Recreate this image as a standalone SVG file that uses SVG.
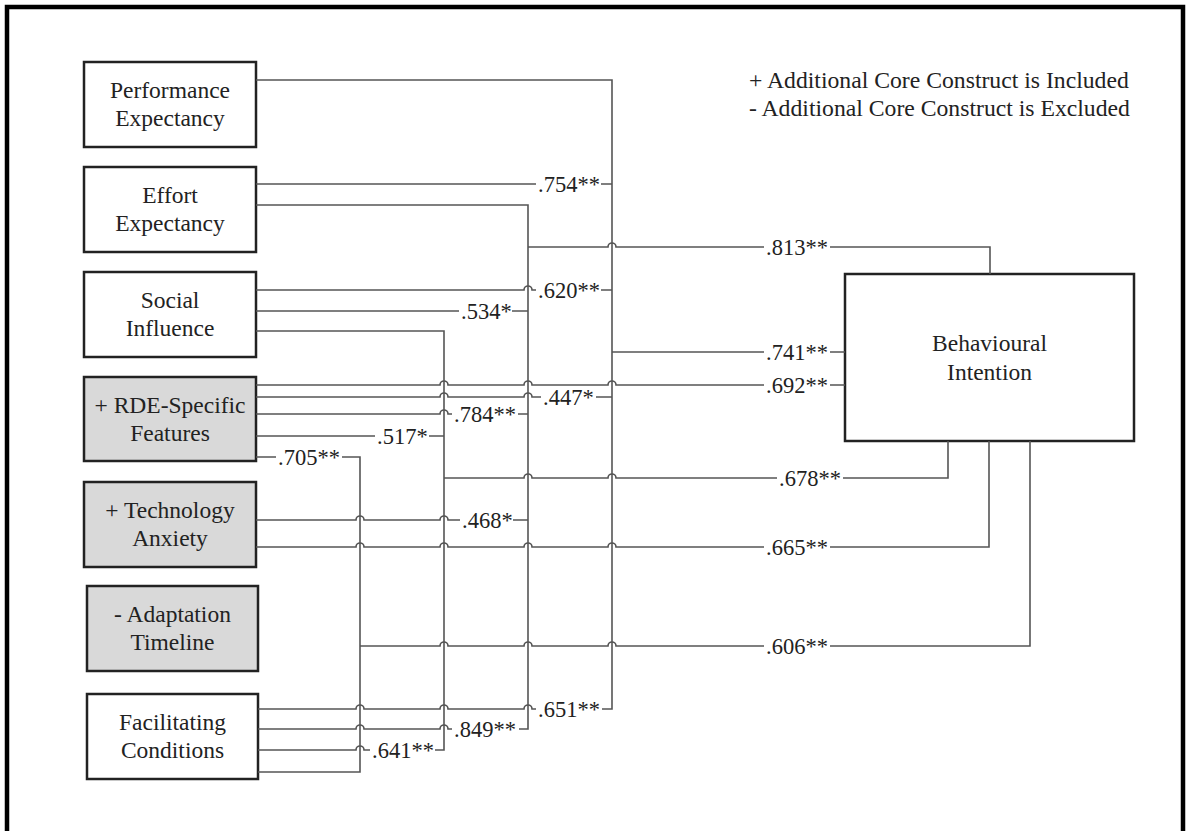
<svg xmlns="http://www.w3.org/2000/svg" width="1190" height="831" viewBox="0 0 1190 831">
<style>
  .frame{fill:none;stroke:#000;stroke-width:4.5}
  .box{stroke:#222;stroke-width:2.5}
  .w{fill:#fff}
  .g{fill:#d9d9d9}
  .t{font-family:"Liberation Serif","Times New Roman",serif;font-size:23.5px;fill:#222;text-anchor:middle}
  .lg{font-family:"Liberation Serif","Times New Roman",serif;font-size:23.7px;fill:#222}
  .c path{fill:none;stroke:#555;stroke-width:1.6}
  .c text{font-family:"Liberation Serif","Times New Roman",serif;font-size:22.5px;fill:#222}
</style>
<rect width="1190" height="831" fill="#fff"/>
<path class="frame" d="M7,831 V7 H1183 V831"/>

<g id="legend">
  <text class="lg" x="749" y="88">+ Additional Core Construct is Included</text>
  <text class="lg" x="749" y="115.5">- Additional Core Construct is Excluded</text>
</g>

<g id="node-pe">
  <rect class="box w" x="84" y="62" width="172" height="85"/>
  <text class="t" x="170" y="98">Performance</text>
  <text class="t" x="170" y="126">Expectancy</text>
</g>
<g id="node-ee">
  <rect class="box w" x="84" y="167" width="172" height="85"/>
  <text class="t" x="170" y="203">Effort</text>
  <text class="t" x="170" y="231">Expectancy</text>
</g>
<g id="node-si">
  <rect class="box w" x="84" y="272" width="172" height="85"/>
  <text class="t" x="170" y="308">Social</text>
  <text class="t" x="170" y="336">Influence</text>
</g>
<g id="node-rde">
  <rect class="box g" x="84" y="377" width="172" height="84"/>
  <text class="t" x="170" y="412.5">+ RDE-Specific</text>
  <text class="t" x="170" y="440.5">Features</text>
</g>
<g id="node-ta">
  <rect class="box g" x="84" y="482" width="172" height="85"/>
  <text class="t" x="170" y="518">+ Technology</text>
  <text class="t" x="170" y="546">Anxiety</text>
</g>
<g id="node-at">
  <rect class="box g" x="87" y="586" width="171" height="85"/>
  <text class="t" x="172.5" y="622">- Adaptation</text>
  <text class="t" x="172.5" y="650">Timeline</text>
</g>
<g id="node-fc">
  <rect class="box w" x="87" y="694" width="171" height="85"/>
  <text class="t" x="172.5" y="730">Facilitating</text>
  <text class="t" x="172.5" y="758">Conditions</text>
</g>
<g id="node-bi">
  <rect class="box w" x="845" y="274" width="289" height="167"/>
  <text class="t" x="989.5" y="351">Behavioural</text>
  <text class="t" x="989.5" y="379.5">Intention</text>
</g>

<g id="connectors" class="c">
  <!-- buses -->
  <path d="M256,80 H612 V709 H602"/>
  <path d="M256,205 H528 V729 H519"/>
  <path d="M256,331 H444 V750 H435"/>
  <path d="M256,457 H276 M342,457 H360 V772 H258"/>
  <!-- correlations -->
  <path d="M256,184 H536 M601,184 H612"/>
  <path d="M256,290 H524 a4,4 0 0 1 8,0 H536 M601,290 H612"/>
  <path d="M256,311 H459 M512,311 H528"/>
  <path d="M256,397 H440 a4,4 0 0 1 8,0 H524 a4,4 0 0 1 8,0 H541 M596,397 H612"/>
  <path d="M256,414 H440 a4,4 0 0 1 8,0 H452 M518,414 H528"/>
  <path d="M256,436 H375 M429,436 H444"/>
  <path d="M256,520 H356 a4,4 0 0 1 8,0 H440 a4,4 0 0 1 8,0 H460 M513,520 H528"/>
  <path d="M258,709 H356 a4,4 0 0 1 8,0 H440 a4,4 0 0 1 8,0 H524 a4,4 0 0 1 8,0 H536"/>
  <path d="M258,729 H356 a4,4 0 0 1 8,0 H440 a4,4 0 0 1 8,0 H452"/>
  <path d="M258,750 H356 a4,4 0 0 1 8,0 H370"/>
  <!-- paths to BI -->
  <path d="M528,247 H608 a4,4 0 0 1 8,0 H764 M830,247 H990 V274"/>
  <path d="M612,352 H764 M830,352 H845"/>
  <path d="M256,385 H440 a4,4 0 0 1 8,0 H524 a4,4 0 0 1 8,0 H608 a4,4 0 0 1 8,0 H764 M830,385 H845"/>
  <path d="M444,478 H524 a4,4 0 0 1 8,0 H608 a4,4 0 0 1 8,0 H777 M843,478 H948 V441"/>
  <path d="M256,547 H356 a4,4 0 0 1 8,0 H440 a4,4 0 0 1 8,0 H524 a4,4 0 0 1 8,0 H608 a4,4 0 0 1 8,0 H764 M830,547 H989 V441"/>
  <path d="M360,646 H440 a4,4 0 0 1 8,0 H524 a4,4 0 0 1 8,0 H608 a4,4 0 0 1 8,0 H764 M830,646 H1030 V441"/>
  <!-- labels -->
  <text x="538" y="191.5">.754**</text>
  <text x="538" y="297.5">.620**</text>
  <text x="461" y="318.5">.534*</text>
  <text x="543" y="404.5">.447*</text>
  <text x="454" y="421.5">.784**</text>
  <text x="377" y="443.5">.517*</text>
  <text x="278" y="464.5">.705**</text>
  <text x="462" y="527.5">.468*</text>
  <text x="538" y="716.5">.651**</text>
  <text x="454" y="736.5">.849**</text>
  <text x="372" y="757.5">.641**</text>
  <text x="766" y="254.5">.813**</text>
  <text x="766" y="359.5">.741**</text>
  <text x="766" y="392.5">.692**</text>
  <text x="779" y="485.5">.678**</text>
  <text x="766" y="554.5">.665**</text>
  <text x="766" y="653.5">.606**</text>
</g>
</svg>
